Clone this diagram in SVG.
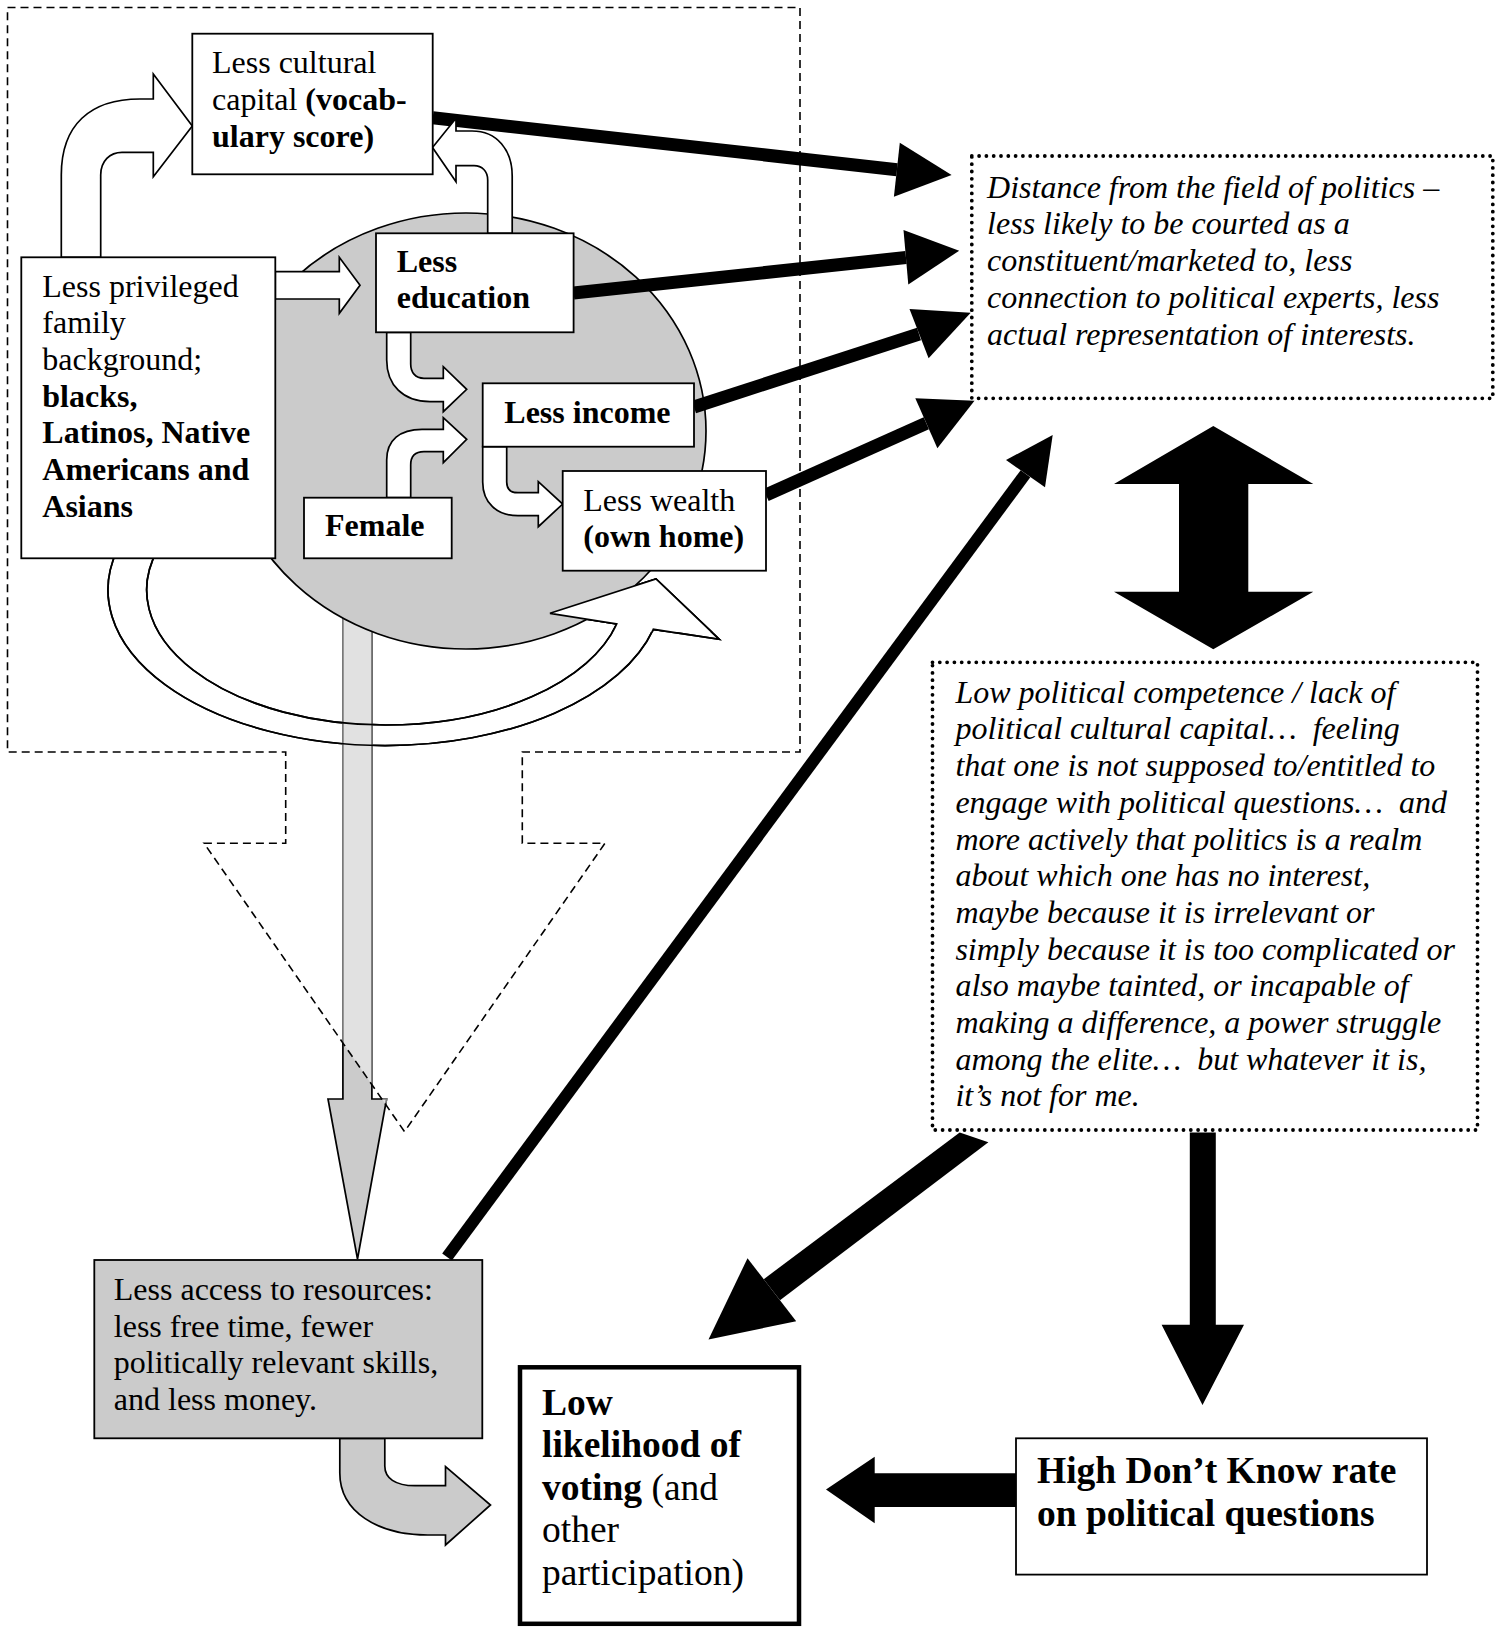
<svg xmlns="http://www.w3.org/2000/svg" width="1499" height="1628" viewBox="0 0 1499 1628">
<defs>
<style>
text{font-family:"Liberation Serif","Times New Roman",serif;font-size:32px;fill:#000}
.b{font-weight:bold}
.i{font-style:italic}
.big{font-size:37.5px}
.box{fill:#fff;stroke:#000;stroke-width:1.8}
.gbox{fill:#cbcbcb;stroke:#000;stroke-width:1.8}
.dot{fill:#fff;stroke:#000;stroke-width:3.8;stroke-dasharray:0 7.3;stroke-linecap:round}
.dash{fill:none;stroke:#000;stroke-width:1.6;stroke-dasharray:8 5}
.blk{fill:#000;stroke:none}
.bl{fill:none;stroke:#000;stroke-linecap:butt}
.wa{fill:#fff;stroke:#000;stroke-width:1.7;stroke-linejoin:miter}
.ga{fill:#cbcbcb;stroke:#000;stroke-width:1.7}
.gw{fill:#e1e1e1;stroke:#7d7d7d;stroke-width:1.7}
</style>
<clipPath id="callclip"><path d="M7.5,7.5H800V752H522.3V843.2H605L404.5,1131.6L204,843.2H285.7V752H7.5Z"/></clipPath>
<clipPath id="headclip"><rect x="530" y="560" width="210" height="72"/></clipPath>
<path id="grayArrow" d="M342.9,600V1099H328L357.5,1259L386.6,1099H371.9V600Z"/>
<path id="circ" d="M117.3,550 A277,155.6 0 0 0 385,745.6 A277,155.6 0 0 0 653.3,629.3 L719.3,639.3 L656,579 L550,613.3 L616.7,624 A238.8,135 0 0 1 385.5,725 A238.8,135 0 0 1 157.4,550 Z"/>
</defs>
<rect x="0" y="0" width="1499" height="1628" fill="#fff"/>

<g id="connectors-under">
<use href="#circ" class="wa"/>
<use href="#grayArrow" class="ga"/>
<use href="#grayArrow" class="gw" clip-path="url(#callclip)"/>
<use href="#circ" fill="none" stroke="#000" stroke-width="1.7"/>
</g>

<g id="ellipse-region">
<ellipse cx="466" cy="431" rx="240" ry="218" fill="#cbcbcb" stroke="#000" stroke-width="1.7"/>
</g>

<g id="callout-region">
<path class="dash" d="M7.5,7.5H800V752H522.3V843.2H605L404.5,1131.6L204,843.2H285.7V752H7.5Z"/>
</g>

<g id="connectors">
<use href="#circ" class="wa" clip-path="url(#headclip)"/>
<line class="bl" x1="432.7" y1="117.8" x2="897" y2="169.7" stroke-width="13"/>
<polygon class="blk" points="899.8,142.7 951.6,175 893.9,196.7"/>
<line class="bl" x1="573.6" y1="293" x2="906" y2="257.5" stroke-width="13"/>
<polygon class="blk" points="903.5,230 959.2,250.7 908.3,284.5"/>
<line class="bl" x1="694" y1="407" x2="919" y2="334" stroke-width="13"/>
<polygon class="blk" points="909.5,309 970.7,312.7 928.6,358.3"/>
<line class="bl" x1="766" y1="495" x2="926.3" y2="423.3" stroke-width="13"/>
<polygon class="blk" points="915.3,398.3 974.5,400.7 937.4,448.3"/>
<line class="bl" x1="447" y1="1257" x2="1025.5" y2="473.7" stroke-width="12"/>
<polygon class="blk" points="1006,460 1052.7,435 1045,487.3"/>
<polygon class="blk" points="1213.3,426 1313.3,484 1248.3,484 1248.3,591.7 1313.3,591.7 1213.3,649.3 1114,591.7 1179,591.7 1179,484 1114,484"/>
<polygon class="blk" points="959.7,1132.4 988.4,1142.2 780,1300.2 763.7,1279.2"/>
<polygon class="blk" points="747.5,1258.3 708.5,1339.4 796.2,1321.2"/>
<polygon class="blk" points="1189.8,1132.4 1215.8,1132.4 1215.8,1324.7 1244,1324.7 1202.5,1405 1161.6,1324.7 1189.8,1324.7"/>
<polygon class="blk" points="1016,1473.2 874.7,1473.2 874.7,1456.8 826,1489.6 874.7,1523.2 874.7,1507 1016,1507"/>
<path class="wa" d="M61.3,257.3 L61.3,175 C61.3,125 90,99 140,99 L153.3,99 L153.3,74 L192.3,126 L153.3,176.7 L153.3,152.3 L122,152.3 C110,152.3 100.7,161 100.7,175 L100.7,257.3 Z"/>
<path class="wa" d="M512.2,233.3 L512.2,176 C512.2,150 497,131 472,131 L456,131 L456,118.3 L432.5,147.5 L456,181.7 L456,165.7 L474,165.7 C482,165.7 487.7,171 487.7,180 L487.7,233.3 Z"/>
<path class="wa" d="M275.3,271.7 L339.3,271.7 L339.3,257.3 L360,285.3 L339.3,313.3 L339.3,299 L275.3,299 Z"/>
<path class="wa" d="M386.7,332.3 L386.7,360 C386.7,385 403,401.7 430,401.7 L443.3,401.7 L443.3,411.7 L466.7,389.3 L443.3,366.7 L443.3,378.3 L424,378.3 C415,378.3 410.7,372 410.7,364 L410.7,332.3 Z"/>
<path class="wa" d="M386.7,497.7 L386.7,460 C386.7,440 400,429.3 422,429.3 L443.3,429.3 L443.3,417.7 L466.7,439.3 L443.3,462.7 L443.3,451.7 L424,451.7 C415,451.7 410.7,457 410.7,465 L410.7,497.7 Z"/>
<path class="wa" d="M482.7,446.7 L482.7,482 C482.7,503 497,515.7 518,515.7 L538.3,515.7 L538.3,526.7 L562.7,504 L538.3,481.7 L538.3,492.7 L518,492.7 C511,492.7 506.7,489 506.7,482 L506.7,446.7 Z"/>
<path class="ga" d="M339.8,1438.3 L339.8,1473 C339.8,1512 378,1535 428,1535 L445.5,1535 L445.5,1545 L490.5,1505 L445.5,1466.7 L445.5,1485.7 L415,1485.7 C395,1485.7 384.8,1478 384.8,1466 L384.8,1438.3 Z"/>
</g>

<g id="node-cultural">
<rect class="box" x="192.3" y="33.7" width="240.4" height="140.6"/>
<text x="212" y="72.7">Less cultural</text>
<text x="212" y="110">capital <tspan class="b">(vocab-</tspan></text>
<text x="212" y="146.7" class="b">ulary score)</text>
</g>

<g id="node-privileged">
<rect class="box" x="21.3" y="257.3" width="254" height="301"/>
<text x="42.3" y="296.7">Less privileged</text>
<text x="42.3" y="333.3">family</text>
<text x="42.3" y="370">background;</text>
<text x="42.3" y="406.7" class="b">blacks,</text>
<text x="42.3" y="443.3" class="b">Latinos, Native</text>
<text x="42.3" y="480" class="b">Americans and</text>
<text x="42.3" y="516.7" class="b">Asians</text>
</g>

<g id="node-education">
<rect class="box" x="376" y="233.3" width="197.6" height="99"/>
<text x="396.7" y="272" class="b">Less</text>
<text x="396.7" y="308.3" class="b">education</text>
</g>

<g id="node-income">
<rect class="box" x="482.7" y="383.3" width="211.3" height="63.4"/>
<text x="504.3" y="422.7" class="b">Less income</text>
</g>

<g id="node-wealth">
<rect class="box" x="562.7" y="471" width="203.3" height="99.7"/>
<text x="583.3" y="510.7">Less wealth</text>
<text x="583.3" y="546.7" class="b">(own home)</text>
</g>

<g id="node-female">
<rect class="box" x="304" y="497.7" width="147.7" height="60.6"/>
<text x="325" y="536" class="b">Female</text>
</g>

<g id="node-distance">
<rect class="dot" x="971.8" y="156" width="521" height="242.3"/>
<text class="i" x="987.1" y="197.5">Distance from the field of politics –</text>
<text class="i" x="987.1" y="234.3">less likely to be courted as a</text>
<text class="i" x="987.1" y="271.1">constituent/marketed to, less</text>
<text class="i" x="987.1" y="307.9">connection to political experts, less</text>
<text class="i" x="987.1" y="344.7">actual representation of interests.</text>
</g>

<g id="node-competence">
<rect class="dot" x="932.5" y="662.3" width="545" height="467.7"/>
<text class="i" x="955.4" y="702.7">Low political competence / lack of</text>
<text class="i" x="955.4" y="739.4">political cultural capital…&#160; feeling</text>
<text class="i" x="955.4" y="776.1">that one is not supposed to/entitled to</text>
<text class="i" x="955.4" y="812.8">engage with political questions…&#160; and</text>
<text class="i" x="955.4" y="849.5">more actively that politics is a realm</text>
<text class="i" x="955.4" y="886.2">about which one has no interest,</text>
<text class="i" x="955.4" y="922.9">maybe because it is irrelevant or</text>
<text class="i" x="955.4" y="959.6">simply because it is too complicated or</text>
<text class="i" x="955.4" y="996.3">also maybe tainted, or incapable of</text>
<text class="i" x="955.4" y="1033">making a difference, a power struggle</text>
<text class="i" x="955.4" y="1069.7">among the elite…&#160; but whatever it is,</text>
<text class="i" x="955.4" y="1106.4">it’s not for me.</text>
</g>

<g id="node-resources">
<rect class="gbox" x="94.3" y="1260" width="388" height="178.3"/>
<text x="113.8" y="1300">Less access to resources:</text>
<text x="113.8" y="1336.5">less free time, fewer</text>
<text x="113.8" y="1373">politically relevant skills,</text>
<text x="113.8" y="1409.5">and less money.</text>
</g>

<g id="node-voting">
<rect x="520" y="1367.3" width="279" height="256.5" fill="#fff" stroke="#000" stroke-width="4.5"/>
<text class="big b" x="542" y="1414.5">Low</text>
<text class="big b" x="542" y="1457">likelihood of</text>
<text class="big" x="542" y="1499.5"><tspan class="b">voting</tspan> (and</text>
<text class="big" x="542" y="1542">other</text>
<text class="big" x="542" y="1584.5">participation)</text>
</g>

<g id="node-dontknow">
<rect class="box" x="1016" y="1438.3" width="411" height="136.3"/>
<text class="big b" x="1037" y="1483">High Don’t Know rate</text>
<text class="big b" x="1037" y="1526">on political questions</text>
</g>
</svg>
